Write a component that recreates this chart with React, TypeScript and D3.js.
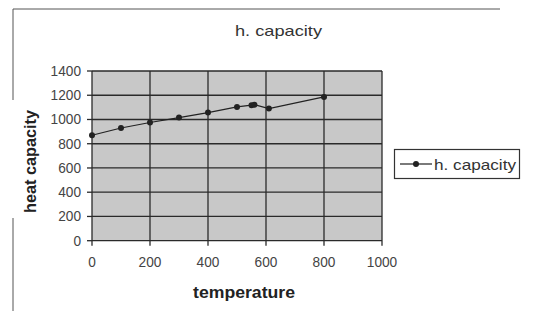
import React from "react";
import * as d3 from "d3";

const temperature = [0, 100, 200, 300, 400, 500, 550, 560, 610, 800];
const heatCapacity = [870, 930, 975, 1016, 1057, 1104, 1118, 1122, 1090, 1186];
const xTicks = [0, 200, 400, 600, 800, 1000];
const yTicks = [0, 200, 400, 600, 800, 1000, 1200, 1400];
const seriesName = "h. capacity";

const W = 536;
const H = 311;

export default function App() {
  const x = d3.scaleLinear().domain([0, 1000]).range([92, 382]);
  const y = d3.scaleLinear().domain([0, 1400]).range([240.7, 71]);
  const line = d3
    .line<number>()
    .x((d, i) => x(temperature[i]))
    .y((d) => y(d));

  const font = "Arial, 'Liberation Sans', sans-serif";
  // scanned text reads a bit wider than plain Arial
  const tickWidth = (t: number) => String(t).length * 7.6;

  return (
    <svg
      width={W}
      height={H}
      style={{ position: "absolute", left: 0, top: 0, background: "#fff" }}
    >
      {/* scanned chart frame */}
      <line x1={13} y1={9} x2={500} y2={9} stroke="#555" strokeWidth={1} />
      <line x1={13} y1={9} x2={13} y2={100} stroke="#555" strokeWidth={1} />
      <line x1={13} y1={218} x2={13} y2={311} stroke="#555" strokeWidth={1} />

      <text x={235} y={36} textLength={87} lengthAdjust="spacingAndGlyphs" fontFamily={font} fontSize={15} fill="#333">
        h. capacity
      </text>

      {/* plot area */}
      <rect x={x(0)} y={y(1400)} width={x(1000) - x(0)} height={y(0) - y(1400)} fill="#c8c8c8" />

      {yTicks.map((t) => (
        <g key={"y" + t}>
          <line x1={x(0)} x2={x(1000)} y1={y(t)} y2={y(t)} stroke="#2a2a2a" strokeWidth={1.3} />
          <line x1={x(0) - 5} x2={x(0)} y1={y(t)} y2={y(t)} stroke="#2a2a2a" strokeWidth={1.3} />
          <text
            x={81 - tickWidth(t)}
            y={y(t) + 5}
            textLength={tickWidth(t)}
            lengthAdjust="spacingAndGlyphs"
            fontFamily={font}
            fontSize={14}
            fill="#444"
          >
            {t}
          </text>
        </g>
      ))}
      {xTicks.map((t) => (
        <g key={"x" + t}>
          <line x1={x(t)} x2={x(t)} y1={y(1400)} y2={y(0) + 5} stroke="#2a2a2a" strokeWidth={1.3} />
          <text
            x={x(t) - tickWidth(t) / 2}
            y={267}
            textLength={tickWidth(t)}
            lengthAdjust="spacingAndGlyphs"
            fontFamily={font}
            fontSize={14}
            fill="#444"
          >
            {t}
          </text>
        </g>
      ))}

      <path d={line(heatCapacity) || ""} fill="none" stroke="#222" strokeWidth={1.2} />
      {heatCapacity.map((v, i) => (
        <circle key={i} cx={x(temperature[i])} cy={y(v)} r={3} fill="#222" />
      ))}

      <text
        transform={`translate(36,213) rotate(-90)`}
        textLength={103}
        lengthAdjust="spacingAndGlyphs"
        fontFamily={font}
        fontSize={16}
        fontWeight="bold"
        fill="#222"
      >
        heat capacity
      </text>
      <text
        x={193}
        y={298}
        textLength={102}
        lengthAdjust="spacingAndGlyphs"
        fontFamily={font}
        fontSize={16}
        fontWeight="bold"
        fill="#222"
      >
        temperature
      </text>

      {/* legend */}
      <rect x={394.5} y={149.5} width={125} height={29} fill="#fff" stroke="#333" strokeWidth={1.2} />
      <line x1={400} x2={432} y1={164} y2={164} stroke="#222" strokeWidth={1.2} />
      <circle cx={416} cy={164} r={3} fill="#222" />
      <text x={434} y={170} textLength={82} lengthAdjust="spacingAndGlyphs" fontFamily={font} fontSize={15} fill="#333">
        {seriesName}
      </text>
    </svg>
  );
}
